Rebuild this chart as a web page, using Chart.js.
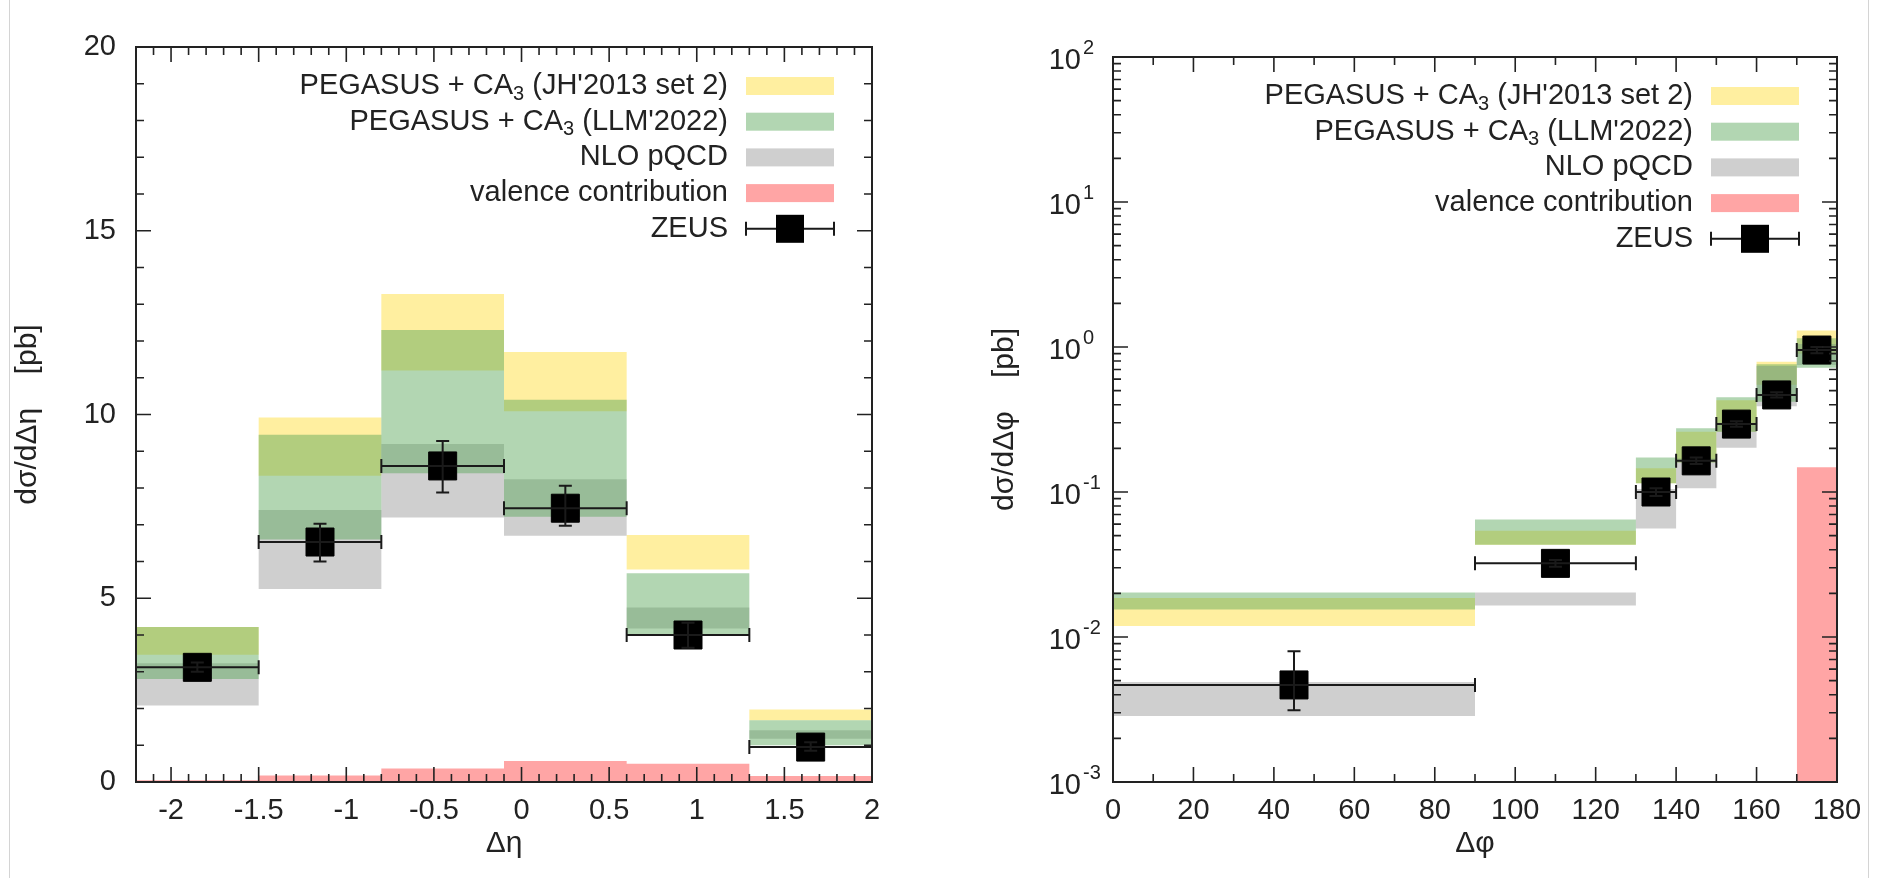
<!DOCTYPE html>
<html><head><meta charset="utf-8">
<script src="https://cdn.jsdelivr.net/npm/chart.js@4.4.1/dist/chart.umd.min.js"></script>
<style>
html,body{margin:0;padding:0;background:#fff;width:1885px;height:878px;overflow:hidden;}
canvas{position:absolute;top:0;}
#c1{left:0;} #c2{left:950px;}
.edge{position:absolute;top:0;width:1px;height:878px;background:#d4d4d4;}
</style></head><body>
<div class="edge" style="left:9px"></div>
<div class="edge" style="left:1868px"></div>
<canvas id="c1" width="950" height="878"></canvas>
<canvas id="c2" width="935" height="878"></canvas>
<script>
// ---------- data: left panel (d sigma / d Delta eta) ----------
const leftEdges     = [-2.2, -1.5, -0.8, -0.1, 0.6, 1.3, 2.0];
const leftYellowHi  = [4.22, 9.92, 13.28, 11.70, 6.72, 1.97];
const leftYellowLo  = [3.46, 8.33, 11.20, 10.09, 5.78, 1.68];
const leftGreenHi   = [4.22, 9.45, 12.30, 10.40, 5.68, 1.68];
const leftGreenLo   = [2.80, 6.60, 8.40, 7.22, 3.98, 1.00];
const leftGrayHi    = [3.23, 7.40, 9.20, 8.24, 4.75, 1.41];
const leftGrayLo    = [2.08, 5.25, 7.20, 6.70, 4.18, 1.18];
const leftValence   = [0.05, 0.18, 0.37, 0.57, 0.50, 0.16];
const leftPointX    = [-1.85, -1.15, -0.45, 0.25, 0.95, 1.65];
const leftPointY    = [3.12, 6.53, 8.60, 7.45, 4.00, 0.95];
const leftErrLo     = [3.00, 6.00, 7.88, 6.97, 3.65, 0.85];
const leftErrHi     = [3.25, 7.03, 9.28, 8.06, 4.33, 1.08];
const leftXTicks    = [-2, -1.5, -1, -0.5, 0, 0.5, 1, 1.5, 2];
const leftXLabels   = ['-2', '-1.5', '-1', '-0.5', '0', '0.5', '1', '1.5', '2'];
const leftYTicks    = [0, 5, 10, 15, 20];
const leftYLabels   = ['0', '5', '10', '15', '20'];

// ---------- data: right panel (d sigma / d Delta phi) ----------
const rightEdges    = [0, 90, 130, 140, 150, 160, 170, 180];
const rightYellowHi = [0.0186, 0.054, 0.146, 0.26, 0.43, 0.79, 1.30];
const rightYellowLo = [0.0119, 0.0432, 0.115, 0.16, 0.26, 0.55, 0.90];
const rightGreenHi  = [0.0203, 0.0645, 0.173, 0.275, 0.45, 0.76, 1.15];
const rightGreenLo  = [0.0155, 0.0432, 0.115, 0.16, 0.26, 0.42, 0.72];
const rightGrayHi   = [0.0049, 0.0203, 0.105, 0.17, 0.30, 0.74, 1.05];
const rightGrayLo   = [0.00285, 0.0165, 0.056, 0.106, 0.202, 0.39, 0.75];
const rightValence  = [null, null, null, null, null, null, 0.148];
const rightPointX   = [45, 110, 135, 145, 155, 165, 175];
const rightPointY   = [0.00467, 0.0322, 0.100, 0.164, 0.294, 0.467, 0.953];
const rightErrLo    = [0.00313, 0.0305, 0.094, 0.156, 0.282, 0.448, 0.905];
const rightErrHi    = [0.00796, 0.0340, 0.106, 0.173, 0.307, 0.488, 1.00];
const rightXTicks   = [0, 20, 40, 60, 80, 100, 120, 140, 160, 180];
const rightXLabels  = ['0', '20', '40', '60', '80', '100', '120', '140', '160', '180'];
const rightYDecades = [-3, -2, -1, 0, 1, 2];

// ---------- legend ----------
const legendNames = ["PEGASUS + CA|3| (JH'2013 set 2)", "PEGASUS + CA|3| (LLM'2022)", "NLO pQCD", "valence contribution", "ZEUS"];

// ---------- style ----------
const FONT = '"Liberation Sans", Arial, Helvetica, sans-serif';
const TXT = '#222';
const FS = 29;
const YEL = 'rgba(255,232,120,0.7)';
const GRN = 'rgba(84,164,84,0.45)';
const GRY = 'rgba(160,160,160,0.5)';
const RED = 'rgba(255,110,110,0.62)';
const MARK = 28;
const legendColors = [YEL, GRN, GRY, RED, null];
const legendEntries = legendNames.map((s, i) => ({parts: s.split('|').map((t, j) => ({t, sub: j % 2 === 1})), color: legendColors[i]}));

function bandPoints(edges, vals) {
  const pts = [];
  vals.forEach((v, i) => {
    if (v === null) { if (pts.length && pts[pts.length - 1].y !== null) pts.push({x: edges[i], y: null}); return; }
    pts.push({x: edges[i], y: v}, {x: edges[i + 1], y: v});
  });
  return pts;
}
function band(edges, hi, lo, color, order) {
  return [
    {data: bandPoints(edges, hi), fill: '+1', backgroundColor: color, borderColor: 'rgba(0,0,0,0)', borderWidth: 0, pointRadius: 0, order},
    {data: bandPoints(edges, lo), fill: false, borderColor: 'rgba(0,0,0,0)', borderWidth: 0, pointRadius: 0, order}
  ];
}
function markers(xs, ys) {
  return {data: xs.map((x, i) => ({x, y: ys[i]})), showLine: false, pointStyle: 'rect', pointRadius: MARK / 2 / Math.SQRT1_2,
          pointBackgroundColor: '#000', pointBorderColor: '#000', pointBorderWidth: 1, order: 0};
}
function linTicks(from, to, step, majors) {
  const out = [];
  const n = Math.round((to - from) / step);
  for (let i = 0; i <= n; i++) {
    const v = +(from + i * step).toFixed(6);
    out.push({v, major: majors.some(m => Math.abs(m - v) < 1e-6)});
  }
  return out;
}
function logTicks(decades) {
  const out = [];
  decades.forEach((k, idx) => {
    out.push({v: Math.pow(10, k), major: true});
    if (idx < decades.length - 1) for (let m = 2; m <= 9; m++) out.push({v: m * Math.pow(10, k), major: false});
  });
  return out;
}

const hepPlugin = {
  id: 'hep',
  afterDatasetsDraw(chart, args, o) {
    const ctx = chart.ctx, xs = chart.scales.x, ys = chart.scales.y, a = chart.chartArea;
    ctx.save();
    // error bars
    ctx.strokeStyle = '#1a1a1a'; ctx.lineWidth = 2;
    o.px.forEach((xv, i) => {
      const y = ys.getPixelForValue(o.py[i]);
      const x0 = xs.getPixelForValue(o.edges[i]), x1 = xs.getPixelForValue(o.edges[i + 1]);
      const xc = xs.getPixelForValue(xv);
      const ylo = ys.getPixelForValue(o.lo[i]), yhi = ys.getPixelForValue(o.hi[i]);
      ctx.beginPath();
      ctx.moveTo(x0, y); ctx.lineTo(x1, y);
      ctx.moveTo(x0, y - 7); ctx.lineTo(x0, y + 7);
      ctx.moveTo(x1, y - 7); ctx.lineTo(x1, y + 7);
      ctx.moveTo(xc, ylo); ctx.lineTo(xc, yhi);
      ctx.moveTo(xc - 6.5, ylo); ctx.lineTo(xc + 6.5, ylo);
      ctx.moveTo(xc - 6.5, yhi); ctx.lineTo(xc + 6.5, yhi);
      ctx.stroke();
    });
    // inward ticks on all sides
    ctx.strokeStyle = '#222'; ctx.lineWidth = 1.6;
    ctx.beginPath();
    o.xTicks.forEach(t => {
      const x = xs.getPixelForValue(t.v); const L = t.major ? 15 : 8;
      ctx.moveTo(x, a.bottom); ctx.lineTo(x, a.bottom - L);
      ctx.moveTo(x, a.top); ctx.lineTo(x, a.top + L);
    });
    o.yTicks.forEach(t => {
      const y = ys.getPixelForValue(t.v); const L = t.major ? 15 : 8;
      ctx.moveTo(a.left, y); ctx.lineTo(a.left + L, y);
      ctx.moveTo(a.right, y); ctx.lineTo(a.right - L, y);
    });
    ctx.stroke();
    ctx.lineWidth = 2;
    ctx.strokeRect(a.left, a.top, a.right - a.left, a.bottom - a.top);
    // log labels with exponents
    ctx.fillStyle = TXT; ctx.textBaseline = 'middle';
    if (o.logLabels) {
      o.logLabels.forEach(k => {
        const y = ys.getPixelForValue(Math.pow(10, k));
        ctx.font = FS + 'px ' + FONT; ctx.textAlign = 'right';
        ctx.fillText('10', a.left - 32, y + 4);
        ctx.font = '20px ' + FONT; ctx.textAlign = 'left';
        ctx.fillText(String(k), a.left - 30, y - 9);
      });
    }
    // legend
    const tr = a.right - 144, sx0 = a.right - 126, sx1 = a.right - 38;
    o.legend.forEach((e, i) => {
      const y = a.top + 39 + i * 35.7;
      let w = 0;
      e.parts.forEach(p => { ctx.font = (p.sub ? '20px ' : FS + 'px ') + FONT; w += ctx.measureText(p.t).width; });
      let x = tr - w;
      ctx.fillStyle = TXT; ctx.textAlign = 'left'; ctx.textBaseline = 'middle';
      e.parts.forEach(p => {
        ctx.font = (p.sub ? '20px ' : FS + 'px ') + FONT;
        ctx.fillText(p.t, x, y + (p.sub ? 8 : 0));
        x += ctx.measureText(p.t).width;
      });
      if (e.color) {
        ctx.fillStyle = e.color; ctx.fillRect(sx0, y - 9, sx1 - sx0, 18);
      } else {
        ctx.strokeStyle = '#1a1a1a'; ctx.lineWidth = 2;
        ctx.beginPath();
        ctx.moveTo(sx0, y); ctx.lineTo(sx1, y);
        ctx.moveTo(sx0, y - 7); ctx.lineTo(sx0, y + 7);
        ctx.moveTo(sx1, y - 7); ctx.lineTo(sx1, y + 7);
        ctx.stroke();
        ctx.fillStyle = '#000';
        const cx = (sx0 + sx1) / 2;
        ctx.fillRect(cx - MARK / 2, y - MARK / 2, MARK, MARK);
      }
    });
    ctx.restore();
  }
};
Chart.register(hepPlugin);

const tickFont = {family: FONT, size: FS};
const titleFont = {family: FONT, size: 30};

// ---------- left chart ----------
new Chart(document.getElementById('c1'), {
  type: 'line',
  data: {datasets: [
    markers(leftPointX, leftPointY),
    ...band(leftEdges, leftYellowHi, leftYellowLo, YEL, 10),
    ...band(leftEdges, leftGrayHi, leftGrayLo, GRY, 9),
    ...band(leftEdges, leftGreenHi, leftGreenLo, GRN, 8),
    ...band(leftEdges, leftValence, leftValence.map(() => 0), RED, 7)
  ]},
  options: {
    responsive: false, animation: false, events: [],
    layout: {padding: {left: 0, top: 47, right: 78, bottom: 0}},
    plugins: {
      legend: {display: false}, tooltip: {enabled: false},
      hep: {edges: leftEdges, px: leftPointX, py: leftPointY, lo: leftErrLo, hi: leftErrHi,
            xTicks: linTicks(-2.2, 2.0, 0.1, leftXTicks), yTicks: linTicks(0, 20, 1, leftYTicks),
            legend: legendEntries, logLabels: null}
    },
    scales: {
      x: {type: 'linear', min: -2.2, max: 2, grid: {display: false, drawTicks: false}, border: {display: false},
          afterBuildTicks: s => { s.ticks = leftXTicks.map(v => ({value: v})); },
          afterFit: s => { s.height = 96; },
          ticks: {autoSkip: false, maxRotation: 0, padding: 12, color: TXT, font: tickFont, callback: (v, i) => leftXLabels[i]},
          title: {display: true, text: 'Δη', color: TXT, font: titleFont, padding: {top: 0, bottom: 16}}},
      y: {type: 'linear', min: 0, max: 20, grid: {display: false, drawTicks: false}, border: {display: false},
          afterBuildTicks: s => { s.ticks = leftYTicks.map(v => ({value: v})); },
          afterFit: s => { s.width = 136; },
          ticks: {autoSkip: false, padding: 20, color: TXT, font: tickFont, callback: (v, i) => leftYLabels[i]},
          title: {display: true, text: 'dσ/dΔη    [pb]', color: TXT, font: titleFont, padding: {top: 10, bottom: 0}}}
    }
  }
});

// ---------- right chart ----------
const rightMin = 1e-3;
new Chart(document.getElementById('c2'), {
  type: 'line',
  data: {datasets: [
    markers(rightPointX, rightPointY),
    ...band(rightEdges, rightYellowHi, rightYellowLo, YEL, 10),
    ...band(rightEdges, rightGrayHi, rightGrayLo, GRY, 9),
    ...band(rightEdges, rightGreenHi, rightGreenLo, GRN, 8),
    ...band(rightEdges, rightValence, rightValence.map(v => v === null ? null : rightMin), RED, 7)
  ]},
  options: {
    responsive: false, animation: false, events: [],
    layout: {padding: {left: 0, top: 57, right: 48, bottom: 0}},
    plugins: {
      legend: {display: false}, tooltip: {enabled: false},
      hep: {edges: rightEdges, px: rightPointX, py: rightPointY, lo: rightErrLo, hi: rightErrHi,
            xTicks: linTicks(0, 180, 10, rightXTicks), yTicks: logTicks(rightYDecades),
            legend: legendEntries, logLabels: rightYDecades}
    },
    scales: {
      x: {type: 'linear', min: 0, max: 180, grid: {display: false, drawTicks: false}, border: {display: false},
          afterBuildTicks: s => { s.ticks = rightXTicks.map(v => ({value: v})); },
          afterFit: s => { s.height = 96; },
          ticks: {autoSkip: false, maxRotation: 0, padding: 12, color: TXT, font: tickFont, callback: (v, i) => rightXLabels[i]},
          title: {display: true, text: 'Δφ', color: TXT, font: titleFont, padding: {top: 0, bottom: 16}}},
      y: {type: 'logarithmic', min: rightMin, max: 100, grid: {display: false, drawTicks: false}, border: {display: false},
          afterBuildTicks: s => { s.ticks = rightYDecades.map(k => ({value: Math.pow(10, k)})); },
          afterFit: s => { s.width = 163; },
          ticks: {display: false},
          title: {display: true, text: 'dσ/dΔφ    [pb]', color: TXT, font: titleFont, padding: {top: 37, bottom: 0}}}
    }
  }
});
</script>
</body></html>
